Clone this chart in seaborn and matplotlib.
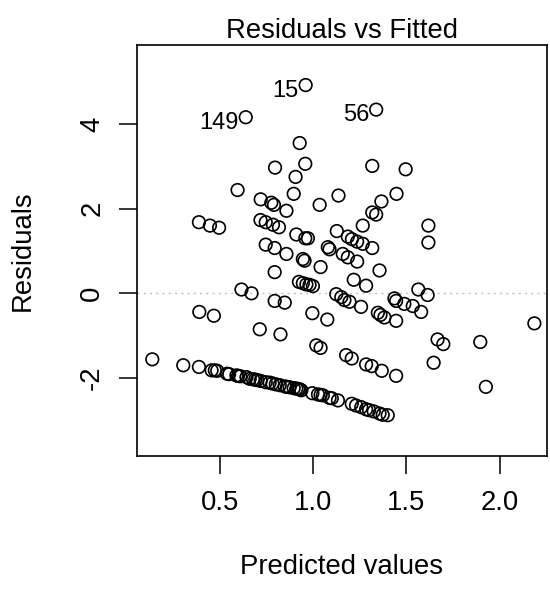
import matplotlib
matplotlib.use("Agg")
import matplotlib.pyplot as plt
import pandas as pd
import seaborn as sns


OUTPUT_PATH = "out.png"

# fitted values / residuals (first three are the labelled outliers)
fitted = [
    0.960, 0.639, 1.338,
    0.928, 0.796, 0.958, 0.906, 0.595, 0.896, 1.035, 0.719, 0.776, 0.790,
    0.857, 0.388, 0.447, 0.496, 0.718, 0.746, 0.785, 0.817, 0.910, 0.958,
    0.972, 1.317, 1.496, 1.136, 1.447, 1.366, 1.317, 1.338, 1.266, 1.618,
    1.127, 1.186, 1.208, 1.236, 1.266, 1.317, 1.618, 1.079, 1.088, 1.159,
    1.186, 1.236, 1.040, 1.356, 1.218, 1.284, 1.564, 1.614, 1.124, 1.151,
    1.168, 1.195, 1.257, 1.436, 1.445, 1.489, 1.534, 1.579, 0.924, 0.945,
    0.964, 0.981, 0.999, 0.996, 1.076, 1.347, 1.361, 1.382, 1.445, 2.186,
    1.667, 1.698, 1.896, 1.646, 1.926, 1.445, 1.177, 1.207, 1.284, 1.314,
    1.368, 1.017, 1.040, 0.714, 0.825, 0.390, 0.468, 0.616, 0.670, 0.794,
    0.848, 0.794, 0.746, 0.794, 0.857, 0.945, 0.954,
    # lower band
    0.138, 0.304, 0.388, 0.456, 0.473, 0.486, 0.539, 0.550, 0.589, 0.598,
    0.610, 0.643, 0.660, 0.678, 0.690, 0.700, 0.719, 0.746, 0.767, 0.782,
    0.800, 0.821, 0.848, 0.860, 0.874, 0.896, 0.910, 0.920, 0.928, 0.937,
    0.996, 1.026, 1.040, 1.052, 1.088, 1.100, 1.133, 1.207, 1.230, 1.258,
    1.284, 1.300, 1.325, 1.356, 1.373, 1.400,
]
residuals = [
    4.92, 4.16, 4.34,
    3.55, 2.97, 3.06, 2.75, 2.44, 2.35, 2.09, 2.22, 2.14, 2.09,
    1.95, 1.68, 1.60, 1.55, 1.73, 1.68, 1.62, 1.56, 1.39, 1.30,
    1.30, 3.01, 2.93, 2.31, 2.35, 2.17, 1.91, 1.86, 1.60, 1.60,
    1.47, 1.34, 1.28, 1.22, 1.17, 1.07, 1.20, 1.09, 1.04, 0.93,
    0.85, 0.75, 0.62, 0.54, 0.32, 0.18, 0.09, -0.04, -0.02, -0.09,
    -0.16, -0.20, -0.32, -0.12, -0.18, -0.25, -0.30, -0.44, 0.27, 0.24,
    0.21, 0.20, 0.17, -0.47, -0.62, -0.46, -0.51, -0.57, -0.65, -0.71,
    -1.09, -1.20, -1.15, -1.64, -2.21, -1.95, -1.46, -1.54, -1.68, -1.72,
    -1.83, -1.23, -1.29, -0.85, -0.97, -0.44, -0.53, 0.09, 0.00, -0.18,
    -0.22, 0.50, 1.15, 1.07, 0.93, 0.81, 0.77,
    # lower band
    -1.56, -1.70, -1.74, -1.82, -1.82, -1.83, -1.90, -1.91, -1.94, -1.95,
    -1.96, -1.98, -2.02, -2.03, -2.04, -2.05, -2.07, -2.10, -2.11, -2.13,
    -2.15, -2.17, -2.20, -2.21, -2.22, -2.24, -2.25, -2.26, -2.27, -2.29,
    -2.36, -2.39, -2.40, -2.41, -2.47, -2.48, -2.53, -2.61, -2.65, -2.69,
    -2.74, -2.76, -2.79, -2.84, -2.87, -2.88,
]
outlier_ids = ["15", "149", "56"]
outlier_rows = [0, 1, 2]

x_ticks = [0.5, 1.0, 1.5, 2.0]
y_ticks = [-2, 0, 2, 4]


def main() -> None:
    df = pd.DataFrame({"fitted": fitted, "resid": residuals})

    sns.set_theme(style="white")
    plt.rcParams["font.family"] = ["Liberation Sans", "DejaVu Sans"]
    plt.rcParams["text.color"] = "black"
    plt.rcParams["axes.labelcolor"] = "black"

    fig = plt.figure(figsize=(5.5, 5.94), dpi=100)
    ax = fig.add_axes([0.2485, 0.2328, 0.7465, 0.6914])

    ax.axhline(0, color="#bebebe", linestyle=(0, (1.5, 3)), linewidth=1.0, zorder=1)

    sns.scatterplot(
        data=df,
        x="fitted",
        y="resid",
        marker="o",
        s=82,
        facecolor="none",
        edgecolor="black",
        linewidth=1.2,
        ax=ax,
        zorder=2,
    )

    for row, name in zip(outlier_rows, outlier_ids):
        ax.annotate(
            name,
            (df["fitted"][row], df["resid"][row]),
            xytext=(-5.0, -4.0),
            textcoords="offset points",
            ha="right",
            va="center",
            fontsize=17,
            color="black",
        )

    ax.set_xlim(0.0543, 2.255)
    ax.set_ylim(-3.837, 5.866)
    ax.set_xticks(x_ticks)
    ax.set_xticklabels([f"{t:.1f}" for t in x_ticks])
    ax.set_yticks(y_ticks)
    ax.set_yticklabels([str(t) for t in y_ticks])

    for side in ["top", "right", "bottom", "left"]:
        ax.spines[side].set_visible(True)
        ax.spines[side].set_color("black")
        ax.spines[side].set_linewidth(1.2)

    ax.tick_params(axis="both", direction="out", length=12.7, width=1.1,
                   color="black", labelsize=19.8, labelcolor="black",
                   bottom=True, left=True)
    ax.tick_params(axis="x", pad=12)
    ax.tick_params(axis="y", pad=10)
    for lab in ax.get_yticklabels():
        lab.set_rotation(90)
        lab.set_va("center")
        lab.set_ha("right")

    ax.set_title("Residuals vs Fitted", fontsize=19.8, pad=5, color="black")
    ax.set_xlabel("Predicted values", fontsize=19.8, va="center")
    ax.set_ylabel("Residuals", fontsize=19.8, va="center")
    ax.xaxis.set_label_coords(0.5, -0.272)
    ax.yaxis.set_label_coords(-0.278, 0.5)

    fig.savefig(OUTPUT_PATH, dpi=100)


if __name__ == "__main__":
    main()
